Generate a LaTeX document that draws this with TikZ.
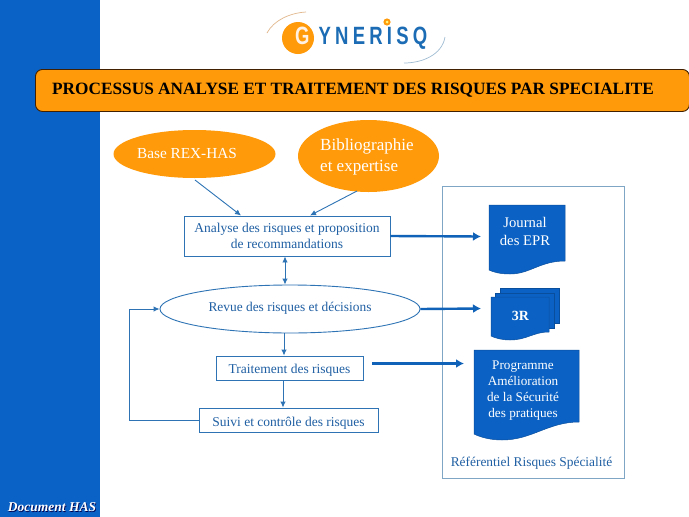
\documentclass[tikz,border=0pt]{standalone}
\usepackage{fontspec}
\setmainfont{Liberation Serif}
\newfontfamily\logofont[FakeStretch=0.74,LetterSpace=17]{Liberation Sans}
\usetikzlibrary{arrows.meta,shapes.geometric}
\definecolor{band}{HTML}{0A62C6}
\definecolor{orangeA}{HTML}{FF9A0A}
\definecolor{inkblue}{HTML}{1F5FA3}
\definecolor{lineblue}{HTML}{2E74B5}
\definecolor{frameblue}{HTML}{7FA6C4}
\definecolor{docblue}{HTML}{0B62C4}
\definecolor{thick}{HTML}{0F62B8}
\definecolor{logoblue}{HTML}{1B6CB4}
\tikzset{
  oval/.style={ellipse,fill=orangeA,text=white,inner sep=0pt,align=left},
  flowbox/.style={draw=lineblue,line width=0.9pt,fill=white,text=inkblue,font=\fontsize{13.5}{16.5}\selectfont,align=center,inner sep=0pt},
  thin arrow/.style={draw=lineblue,line width=0.9pt,-{Latex[length=6pt,width=5.5pt]}},
  thick arrow/.style={draw=thick,line width=2.4pt,-{Latex[length=8pt,width=9pt]}},
  docshape/.style={fill=docblue,draw=docblue!80!black,line width=0.5pt},
  doctext/.style={text=white,font=\fontsize{13.2}{16}\selectfont,align=center,inner sep=0pt},
}
\begin{document}
\begin{tikzpicture}[x=1pt,y=-1pt]
\useasboundingbox (0,0) rectangle (689,517);
\fill[white] (0,0) rectangle (689,517);
% left band
\fill[band] (0,0) rectangle (100,517);
\node[text=black!70!blue,font=\fontsize{13.5}{14}\selectfont\bfseries\itshape,anchor=center,inner sep=0pt] (docshadow) at (52.7,507.7) {Document HAS};
\node[text=white,font=\fontsize{13.5}{14}\selectfont\bfseries\itshape,anchor=center,inner sep=0pt] (dochas) at (52,507) {Document HAS};
% logo
\draw[draw=black!25!orange!45!white,line width=0.7pt] (267,33) .. controls (274,20) and (290,13) .. (306,12);
\draw[draw=frameblue!75!white,line width=0.7pt] (404,63) .. controls (422,63) and (442,55) .. (445,37);
\fill[orangeA] (298,38) circle (16);
\fill[orangeA] (387,22) circle (3.6);
\fill[yellow!50!white] (387,22) circle (1.5);
\node[anchor=west,inner sep=0pt,font=\logofont\bfseries\fontsize{25}{28}\selectfont,text=logoblue] (logo) at (295,38.5) {\textcolor{white!90!orange}{G}\hspace{9pt}YNERISQ};
% title
\node[draw=black!75!orange,line width=0.9pt,fill=orangeA,rounded corners=7pt,minimum width=654pt,minimum height=42pt,anchor=north west,inner sep=0pt] (titlebox) at (35,69) {};
\node[anchor=west,inner sep=0pt,font=\fontsize{17.26}{20}\selectfont\bfseries,text=black] (title) at (52,90.5) {PROCESSUS ANALYSE ET TRAITEMENT DES RISQUES PAR SPECIALITE};
% ovals
\node[oval,minimum width=162pt,minimum height=48pt] (rex) at (194.5,154) {};
\node[text=white,font=\fontsize{15.3}{18}\selectfont,inner sep=0pt] (rextext) at (187,153.5) {Base REX-HAS};
\node[oval,minimum width=141pt,minimum height=72pt] (biblio) at (368.5,156) {};
\node[anchor=west,text=white,font=\fontsize{17}{20.5}\selectfont,align=left,inner sep=0pt] (bibliotext) at (320,157) {Bibliographie\\et expertise};
% process boxes
\node[flowbox,minimum width=206pt,minimum height=40pt] (analyse) at (287,236) {Analyse des risques et proposition\\de recommandations};
\node[ellipse,draw=lineblue,line width=0.9pt,fill=white,text=inkblue,font=\fontsize{13.4}{15}\selectfont,minimum width=260pt,minimum height=48pt,inner sep=0pt] (revue) at (290,309) {\raisebox{0pt}[7pt][3pt]{Revue des risques et décisions}};
\node[flowbox,minimum width=147pt,minimum height=24pt] (traitement) at (289.5,368) {\raisebox{0pt}[10pt][0pt]{Traitement des risques}};
\node[flowbox,minimum width=179pt,minimum height=24pt] (suivi) at (288.5,420) {\raisebox{0pt}[12pt][0pt]{Suivi et contrôle des risques}};
% referentiel frame
\node[draw=frameblue,line width=1pt,minimum width=182pt,minimum height=292pt,anchor=north west,inner sep=0pt] (frame) at (442,186) {};
\node[text=inkblue,font=\fontsize{13.4}{15}\selectfont,inner sep=0pt] (reftext) at (531.5,463.5) {Référentiel Risques Spécialité};
% documents
\draw[docshape] (489,205) -- (565,205) -- (565,261) .. controls (540,261) and (530,274) .. (510,274) .. controls (500,274) and (493,272) .. (489,270) -- cycle;
\node[doctext,font=\fontsize{14.7}{18}\selectfont] (journal) at (525,231.5) {Journal\\des EPR};
\coordinate (journalin) at (481,236.5);
\draw[docshape] (500,288) -- (559,288) -- (559,323) -- (500,323) -- cycle;
\draw[docshape] (495,293) -- (554,293) -- (554,328) -- (495,328) -- cycle;
\draw[docshape] (491,297) -- (549,297) -- (549,332) .. controls (533,332) and (527,340) .. (510,340) .. controls (502,340) and (495,338) .. (491,336) -- cycle;
\node[text=white,font=\fontsize{14}{17}\selectfont\bfseries,inner sep=0pt] (rr) at (520.5,315.5) {3R};
\coordinate (rrin) at (481,308.5);
\draw[docshape] (474,350) -- (579,350) -- (579,422) .. controls (548,422) and (532,440) .. (502,440) .. controls (490,440) and (480,437) .. (474,434) -- cycle;
\node[doctext] (programme) at (523,391) {Programme\\Amélioration\\de la Sécurité\\des pratiques};
\coordinate (programmein) at (464,363.5);
% connectors
\coordinate (rexstart) at (195,180);
\coordinate (biblioend) at (357,191);
\draw[thin arrow] (rexstart) -- (241,215.5);
\draw[thin arrow] (biblioend) -- (310,215.5);
\draw[draw=lineblue,line width=0.9pt,{Latex[length=6pt,width=5.5pt]}-{Latex[length=6pt,width=5.5pt]}] (analyse.south -| 285,0) -- (revue.north -| 285,0);
\draw[thin arrow] (revue.south -| 284,0) -- (traitement.north -| 284,0);
\draw[thin arrow] (traitement.south -| 283,0) -- (suivi.north -| 283,0);
\draw[thin arrow] (suivi.west) -| (129,309) -- (revue.west);
\draw[thick arrow] (analyse.east) -- (journalin);
\draw[thick arrow] (revue.east) -- (rrin);
\draw[thick arrow,shorten <=9pt] (traitement.east) ++(0,-4.5) -- (programmein);
\end{tikzpicture}
\end{document}
